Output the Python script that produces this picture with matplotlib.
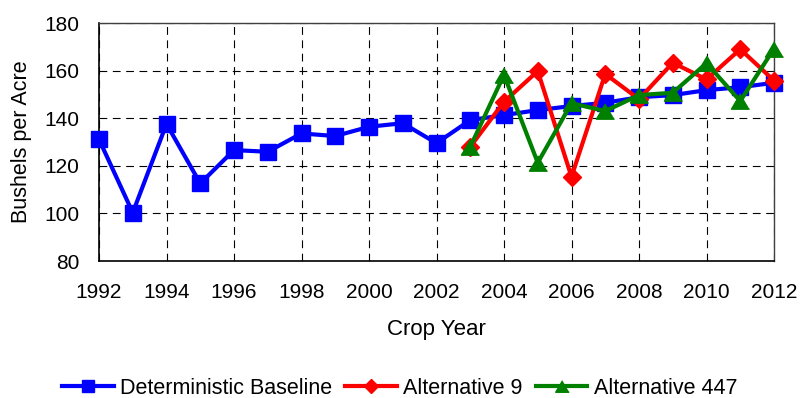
import matplotlib
matplotlib.use("Agg")
import matplotlib.pyplot as plt

plt.rcParams['font.family'] = ['Liberation Sans', 'DejaVu Sans']

years_base = list(range(1992, 2013))
baseline = [131.1, 100.3, 137.6, 112.6, 126.6, 125.9, 133.6, 132.5, 136.4, 137.9,
            129.5, 139.2, 141.3, 143.4, 145.1, 146.5, 148.8, 149.7, 151.8, 153.0, 154.9]

years_alt = list(range(2003, 2013))
alt9 = [128.0, 146.9, 159.8, 115.4, 158.6, 148.0, 163.3, 156.3, 169.0, 155.8]
alt447 = [128.0, 158.2, 121.3, 146.3, 143.0, 149.7, 150.7, 163.1, 147.2, 169.2]

labels = ["Deterministic Baseline", "Alternative 9", "Alternative 447"]
x_ticks = list(range(1992, 2013, 2))
y_ticks = list(range(80, 181, 20))

fig = plt.figure(figsize=(8.01, 3.98), dpi=100)
ax = fig.add_axes([0.1236, 0.3442, 0.8427, 0.598])

tri = [(0, 0.85), (-1, -0.85), (1, -0.85)]

ax.plot(years_base, baseline, color='#0000FF', lw=3, marker='s', markersize=11,
        label=labels[0], zorder=3, clip_on=False)
ax.plot(years_alt, alt9, color='#FF0000', lw=3, marker='D', markersize=9.5,
        label=labels[1], zorder=4, clip_on=False)
ax.plot(years_alt, alt447, color='#008000', lw=3, marker=tri, markersize=13,
        label=labels[2], zorder=5, clip_on=False)

ax.set_xlim(1992, 2012)
ax.set_ylim(80, 180)
ax.set_xticks(x_ticks)
ax.set_yticks(y_ticks)
ax.tick_params(axis='both', length=0, labelsize=15)
ax.tick_params(axis='x', pad=16)
ax.tick_params(axis='y', pad=14)

ax.grid(True, color='black', linestyle=(0, (7, 5)), lw=0.8)
ax.set_axisbelow(True)
for side in ['left', 'bottom']:
    ax.spines[side].set_color('black')
    ax.spines[side].set_linewidth(1.2)
for side in ['top', 'right']:
    ax.spines[side].set_color('#404040')
    ax.spines[side].set_linewidth(1.0)

ax.set_ylabel("Bushels per Acre", fontsize=15.5, labelpad=9)
ax.set_xlabel("Crop Year", fontsize=16, labelpad=12)

handles, lbls = ax.get_legend_handles_labels()
fig.legend(handles, lbls, loc='center', bbox_to_anchor=(0.499, 0.025), ncol=3,
           frameon=False, fontsize=15.5, markerscale=0.75, handlelength=2.4,
           handletextpad=0.3, columnspacing=0.6)

fig.savefig("out.png", dpi=100)
